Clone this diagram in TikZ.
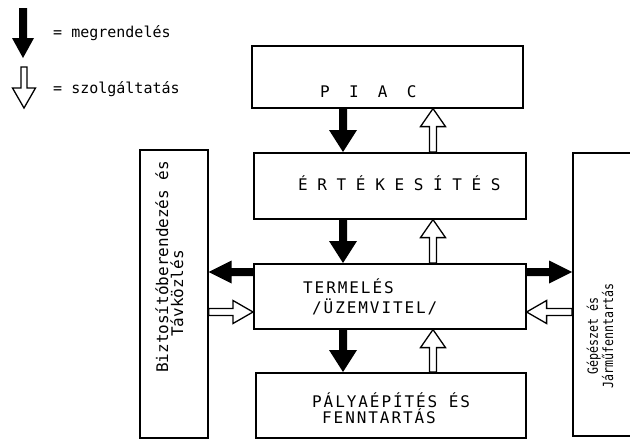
\documentclass[tikz,border=0pt]{standalone}
\usepackage{fontspec}
\newfontfamily\tw{DejaVu Sans Mono}
\newfontfamily\twls{DejaVu Sans Mono}[LetterSpace=12]
\newfontfamily\twn{DejaVu Sans Mono}[FakeStretch=0.83]
\usetikzlibrary{calc,backgrounds}

% block arrow: #1 style, #2 start, #3 tip, #4 shaft half width, #5 head half width, #6 head length
\newcommand\blockarrow[6]{%
  \path #2 coordinate (ba-s) #3 coordinate (ba-e);
  \path ($(ba-e)!#6!(ba-s)$) coordinate (ba-h);
  \draw[#1] ($(ba-s)!#4!90:(ba-e)$) -- ($(ba-h)!#4!90:(ba-e)$)
    -- ($(ba-h)!#5!90:(ba-e)$) -- (ba-e) -- ($(ba-h)!#5!-90:(ba-e)$)
    -- ($(ba-h)!#4!-90:(ba-e)$) -- ($(ba-s)!#4!-90:(ba-e)$) -- cycle;
}

\begin{document}
\begin{tikzpicture}[x=1pt,y=-1pt,
  box/.style={draw, line width=1.6pt, inner sep=0pt, anchor=north west},
  order/.style={fill=black, draw=none},
  service/.style={draw=black, fill=white, line width=1.3pt, line join=miter},
  capsA/.style={inner sep=0pt, anchor=base west, font=\tw\fontsize{16}{19}\selectfont},
  capsB/.style={inner sep=0pt, anchor=base west, font=\twls\fontsize{16}{19}\selectfont},
  side/.style={inner sep=0pt, rotate=90, font=\tw\fontsize{16}{19}\selectfont},
  legend/.style={inner sep=0pt, anchor=base west, font=\tw\fontsize{15}{18}\selectfont}]
\useasboundingbox (0,0) rectangle (630,439);
\clip (0,0) rectangle (630,439);

% boxes
\node[box, minimum width=271pt, minimum height=62pt] (piac)  at (251,45)  {};
\node[box, minimum width=272pt, minimum height=66pt] (ert)   at (253,152) {};
\node[box, minimum width=272pt, minimum height=65pt] (term)  at (253,263) {};
\node[box, minimum width=270pt, minimum height=65pt] (palya) at (255,372) {};
\node[box, minimum width=68pt,  minimum height=288pt] (bizt) at (139,149) {};
\node[box, minimum width=70pt,  minimum height=283pt] (gep)  at (572,152) {};

% box texts
\node[capsA] (piact) at (320,97)  {P~~I~~A~~C};
\node[capsA] (ertt)  at (298,190) {É~R~T~É~K~E~S~Í~T~É~S};
\node[capsB] (termt1) at (303,293) {TERMELÉS};
\node[capsB] (termt2) at (312,313) {/ÜZEMVITEL/};
\node[capsB] (palyat1) at (312,407) {PÁLYAÉPÍTÉS~ÉS};
\node[capsB] (palyat2) at (322,423) {FENNTARTÁS};
\node[side, anchor=base west] (biztt1) at (168,373) {Biztosítóberendezés és};
\node[side, anchor=base west] (biztt2) at (183,337) {Távközlés};
\node[inner sep=0pt, rotate=90, align=center, font=\twn\fontsize{14}{13}\selectfont] (gept) at (600,336) {Gépészet és\\Járműfenntartás};

% legend
\coordinate (l1a) at (23,8);
\coordinate (l1b) at (23,58);
\coordinate (l2a) at (24,67);
\coordinate (l2b) at (24,108);
\node[legend] (lg1) at (53,37) {= megrendelés};
\node[legend] (lg2) at (53,93) {= szolgáltatás};

% arrow columns and rows
\coordinate (cb) at (343,0);
\coordinate (cs) at (433,0);
\coordinate (rb) at (0,272);
\coordinate (rs) at (0,312);

\begin{scope}[on background layer]
  \fill[white] (0,0) rectangle (630,439);

  \blockarrow{order}{(l1a)}{(l1b)}{4pt}{11pt}{20pt}
  \blockarrow{service}{(l2a)}{(l2b)}{3pt}{11.5pt}{20pt}

  \blockarrow{order}{(piac.south -| cb)}{(ert.north -| cb)}{4pt}{14pt}{22pt}
  \blockarrow{order}{(ert.south -| cb)}{(term.north -| cb)}{4pt}{14pt}{22pt}
  \blockarrow{order}{(term.south -| cb)}{(palya.north -| cb)}{4pt}{14pt}{22pt}
  \blockarrow{service}{(ert.north -| cs)}{(piac.south -| cs)}{3.5pt}{12.5pt}{18pt}
  \blockarrow{service}{(term.north -| cs)}{(ert.south -| cs)}{3.5pt}{12.5pt}{18pt}
  \blockarrow{service}{(palya.north -| cs)}{(term.south -| cs)}{3.5pt}{12.5pt}{18pt}

  \blockarrow{order}{(term.west |- rb)}{(bizt.east |- rb)}{4pt}{11.5pt}{23pt}
  \blockarrow{service}{(bizt.east |- rs)}{(term.west |- rs)}{3.5pt}{11.5pt}{20pt}
  \blockarrow{order}{(term.east |- rb)}{(gep.west |- rb)}{4pt}{11.5pt}{23pt}
  \blockarrow{service}{(gep.west |- rs)}{(term.east |- rs)}{3.5pt}{11.5pt}{20pt}
\end{scope}
\end{tikzpicture}
\end{document}
